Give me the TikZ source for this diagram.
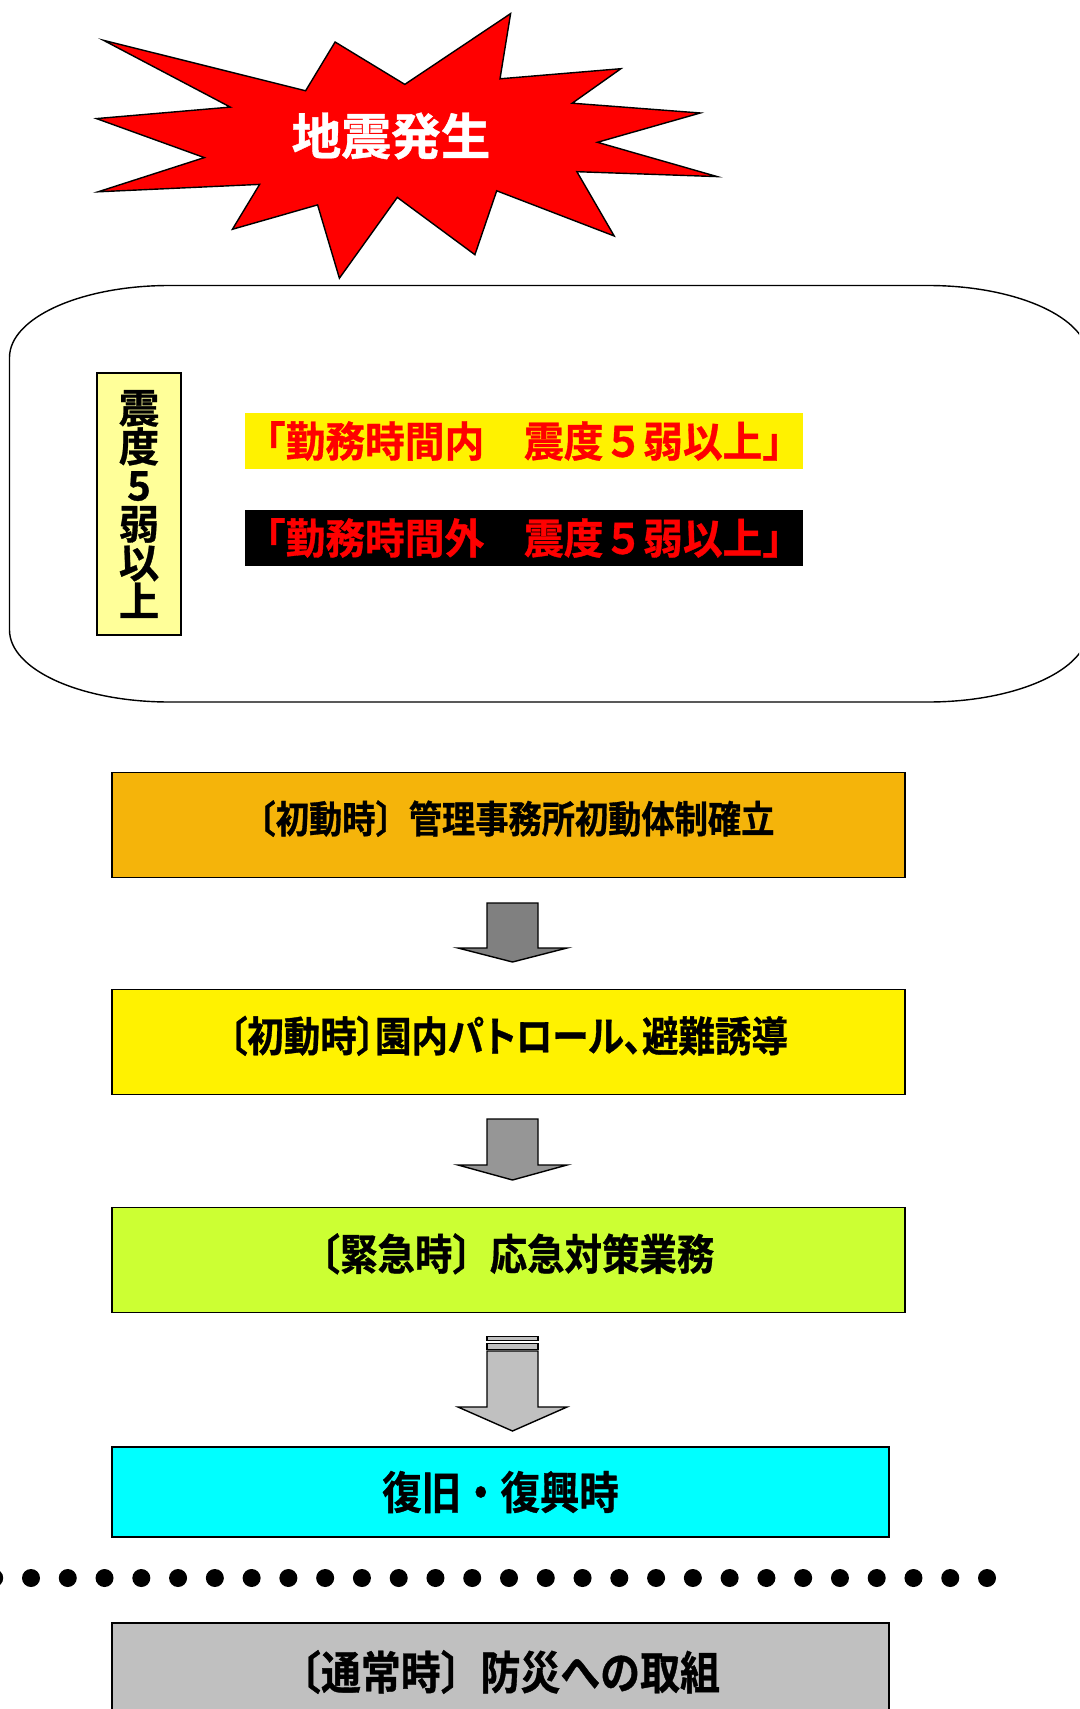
\documentclass[tikz,border=0pt]{standalone}
\usepackage{fontspec}
\usepackage{tikz}
\setmainfont{Noto Sans CJK JP}
\newfontfamily\heavyjp{Noto Sans CJK JP Bold}[FakeBold=0.8]
\newfontfamily\narrowjp{Noto Sans CJK JP Bold}[FakeStretch=0.88, FakeBold=0.8]
\newfontfamily\bannerjp{Noto Sans CJK JP Bold}[FakeStretch=0.95, FakeBold=0.8]
\definecolor{initorange}{RGB}{245,180,10}
\definecolor{urgentgreen}{RGB}{204,255,51}
\definecolor{recovercyan}{RGB}{0,255,255}
\definecolor{labelyellow}{RGB}{255,255,153}
\definecolor{arrowdark}{RGB}{128,128,128}
\definecolor{arrowmid}{RGB}{150,150,150}
\definecolor{arrowlight}{RGB}{192,192,192}
\newcommand{\flowarrow}[4]{\filldraw[fill=#4, line width=0.8pt] (487,#1) -- (538,#1) -- (538,#2) -- (567,#2) -- (512.5,#3) -- (458,#2) -- (487,#2) -- cycle;}

\begin{document}
\begin{tikzpicture}[x=0.02cm,y=-0.02cm]
  \tikzset{stage/.style = {draw, line width=0.9pt, minimum width=15.86cm, minimum height=2.1cm, inner sep=0pt}}
  \tikzset{banner/.style = {minimum width=11.16cm, minimum height=1.12cm, inner sep=0pt, text=red, font=\bannerjp\fontsize{23.8}{24}\selectfont}}

\useasboundingbox (0,0) rectangle (1079,1709);
\clip (0,0) rectangle (1079,1709);

\filldraw[fill=red, line width=0.8pt] (103.5,40.3) -- (305.6,90.8) -- (335.1,42) -- (404.8,84.4) -- (510.6,13.6) -- (500,78.8) -- (620.9,68.7) -- (572.2,103.2) -- (700.3,113) -- (597.4,142.3) -- (717.2,176.6) -- (576.9,171.7) -- (614.2,236) -- (496.7,190.8) -- (474.9,254.7) -- (397.3,197.4) -- (339.4,278.2) -- (317.6,204.9) -- (232.4,229.3) -- (259.6,184.4) -- (98.1,191.8) -- (204.3,157.6) -- (96.5,118.6) -- (230.3,107.1) -- cycle;
\node[text=white, font=\heavyjp\fontsize{28.3}{30}\selectfont] (quake) at (391,136) {地震発生};

\draw[line width=0.8pt] (169.5,285.5) -- (928,285.5) .. controls (1016.4,285.5) and (1088,317.7) .. (1088,357.5) -- (1088,630) .. controls (1088,669.8) and (1016.4,702) .. (928,702) -- (169.5,702) .. controls (81.1,702) and (9.5,669.8) .. (9.5,630) -- (9.5,357.5) .. controls (9.5,317.7) and (81.1,285.5) .. cycle;

\node[draw, line width=0.8pt, fill=labelyellow, minimum width=1.68cm, minimum height=5.24cm, inner sep=0pt, align=center, font=\heavyjp\fontsize{23}{22}\selectfont] (intensity) at (139,504) {震\\度\\5\\弱\\以\\上};
\node[banner, fill=yellow] (onduty) at (524,441) {「勤務時間内　震度５弱以上」};
\node[banner, fill=black] (offduty) at (524,538) {「勤務時間外　震度５弱以上」};

\node[stage, fill=initorange, text depth=9.5pt, font=\narrowjp\fontsize{21.5}{22}\selectfont] (office) at (508.5,825) {〔初動時〕管理事務所初動体制確立};
\node[stage, fill=yellow, text depth=9.5pt, font=\narrowjp\fontsize{23.6}{24}\selectfont\addfontfeature{RawFeature=+palt}] (patrol) at (508.5,1042) {〔初動時〕園内パトロール、避難誘導};
\node[stage, fill=urgentgreen, text depth=9.5pt, font=\narrowjp\fontsize{24.2}{25}\selectfont] (urgent) at (508.5,1260) {〔緊急時〕応急対策業務};
\node[stage, fill=recovercyan, minimum width=15.54cm, minimum height=1.8cm, font=\narrowjp\fontsize{25.5}{26}\selectfont] (recover) at (500.5,1492) {復旧・復興時};
\node[stage, fill=arrowlight, minimum width=15.54cm, minimum height=1.96cm, font=\narrowjp\fontsize{25.8}{26}\selectfont] (normal) at (500.5,1672) {〔通常時〕防災への取組};

\flowarrow{903}{948}{962}{arrowdark}
\flowarrow{1119}{1165}{1180}{arrowmid}
\filldraw[fill=arrowlight, line width=0.8pt] (487,1336.7) rectangle (538,1340.7);
\filldraw[fill=arrowlight, line width=0.8pt] (487,1343.3) rectangle (538,1349.3);
\flowarrow{1351}{1407}{1431}{arrowlight}

\foreach \i in {-1,...,26}
  \fill (31+36.77*\i,1578) circle[radius=9];

\end{tikzpicture}
\end{document}
